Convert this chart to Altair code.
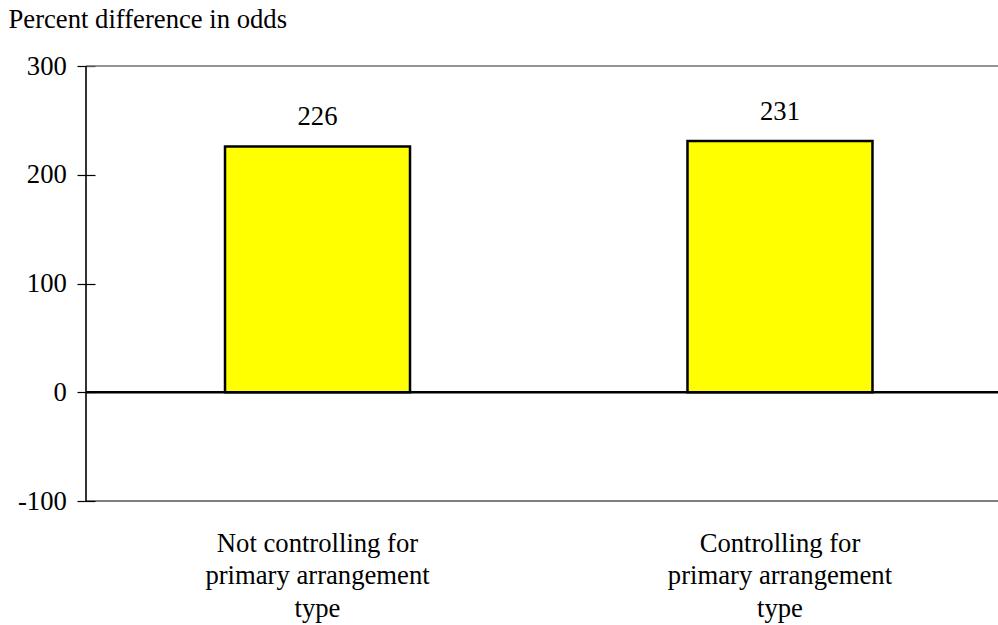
import altair as alt
import pandas as pd

# Values shown on the chart
categories = [
    "Not controlling for\nprimary arrangement\ntype",
    "Controlling for\nprimary arrangement\ntype",
]
values = [226, 231]

y_domain = [-100, 300]
y_ticks = [-100, 0, 100, 200, 300]
y_title = "Percent difference in odds"

FONT = "Liberation Serif"
FS = 26.67

df = pd.DataFrame({"category": categories, "value": values})

x_enc = alt.X(
    "category:N",
    sort=categories,
    scale=alt.Scale(paddingInner=0.6, paddingOuter=0.286, align=0.5255),
    axis=alt.Axis(
        title=None,
        domain=False,
        ticks=False,
        labelAngle=0,
        labelPadding=29,
        labelBaseline="top",
        labelLineHeight=32.5,
        labelFont=FONT,
        labelFontSize=FS,
        labelColor="black",
        labelLimit=0,
        labelOverlap=False,
        labelExpr="split(datum.label, '\\n')",
    ),
)

y_enc = alt.Y(
    "value:Q",
    scale=alt.Scale(domain=y_domain, nice=False, zero=False),
    axis=alt.Axis(
        values=y_ticks,
        labelExpr="toString(datum.value)",
        domain=False,
        grid=False,
        offset=-9,
        tickSize=18,
        tickColor="black",
        tickWidth=1.2,
        labelPadding=10.7,
        labelFont=FONT,
        labelFontSize=FS,
        labelColor="black",
        labelBaseline="middle",
        title=y_title,
        titleAngle=0,
        titleAlign="left",
        titleBaseline="alphabetic",
        titleX=-87,
        titleY=-39,
        titleFont=FONT,
        titleFontSize=FS,
        titleFontWeight="normal",
        titleColor="black",
    ),
)

bars = alt.Chart(df).mark_bar(
    color="#ffff00", stroke="black", strokeWidth=2.5
).encode(x=x_enc, y=y_enc)

labels = alt.Chart(df).mark_text(
    baseline="alphabetic", dy=-21, font=FONT, fontSize=FS, color="black"
).encode(x=alt.X("category:N", sort=categories), y="value:Q", text=alt.Text("value:Q", format="d"))

# Frame lines at the ends of the value range, and the zero baseline
top_line = alt.Chart(pd.DataFrame({"v": [y_domain[1]]})).mark_rule(
    color="#707070", strokeWidth=1.5
).encode(y="v:Q")
bottom_line = alt.Chart(pd.DataFrame({"v": [y_domain[0]]})).mark_rule(
    color="black", strokeWidth=1.2
).encode(y="v:Q")
zero_line = alt.Chart(pd.DataFrame({"v": [0]})).mark_rule(
    color="black", strokeWidth=2.6
).encode(y="v:Q")
left_line = alt.Chart(pd.DataFrame({"lo": [y_domain[0]], "hi": [y_domain[1]]})).mark_rule(
    color="black", strokeWidth=1.6
).encode(x=alt.value(0), y="lo:Q", y2="hi:Q")

chart = (
    alt.layer(bars, top_line, bottom_line, zero_line, left_line, labels)
    .properties(
        width=912,
        height=435,
        autosize=alt.AutoSizeParams(type="none"),
        padding={"left": 86, "top": 66, "right": 0, "bottom": 124},
        background="white",
    )
    .configure_view(stroke=None)
)

chart.save("out.html", embed_options={"renderer": "svg", "actions": False})
